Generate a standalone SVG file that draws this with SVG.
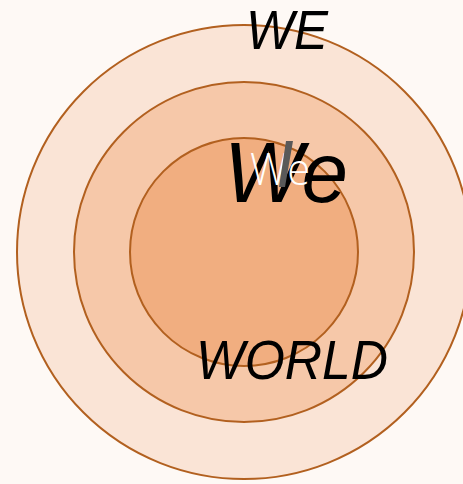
<svg xmlns="http://www.w3.org/2000/svg" width="463" height="484" viewBox="0 0 463 484">
<style>
.ring{stroke:#B2601F;stroke-width:2}
.lbl{font-family:"Liberation Sans",Arial,sans-serif;font-style:italic;fill:#000}
</style>
<rect width="463" height="484" fill="#FEF9F5"/>
<g id="outer"><circle class="ring" cx="244" cy="252" r="227" fill="#FAE4D6"/></g>
<g id="middle"><circle class="ring" cx="244" cy="252" r="170" fill="#F6C8A9"/></g>
<g id="inner"><circle class="ring" cx="244" cy="252" r="114" fill="#F1AE80"/></g>
<g id="connectors"></g>
<g id="labels">
<text class="lbl" x="246" y="49" font-size="56" textLength="82" lengthAdjust="spacingAndGlyphs">WE</text>
<text class="lbl" x="196" y="379" font-size="56" textLength="192" lengthAdjust="spacingAndGlyphs">WORLD</text>
<text class="lbl" x="224" y="202" font-size="85" textLength="124" lengthAdjust="spacingAndGlyphs">We</text>
<text x="250" y="185" font-family="'Open Sans','Liberation Sans',sans-serif" font-weight="300" font-size="44" fill="#FFFFFF" textLength="60" lengthAdjust="spacingAndGlyphs">We</text>
<path d="M286 141 L293 141 L285 187 L279 187 Z" fill="#595959"/>
</g>
</svg>
